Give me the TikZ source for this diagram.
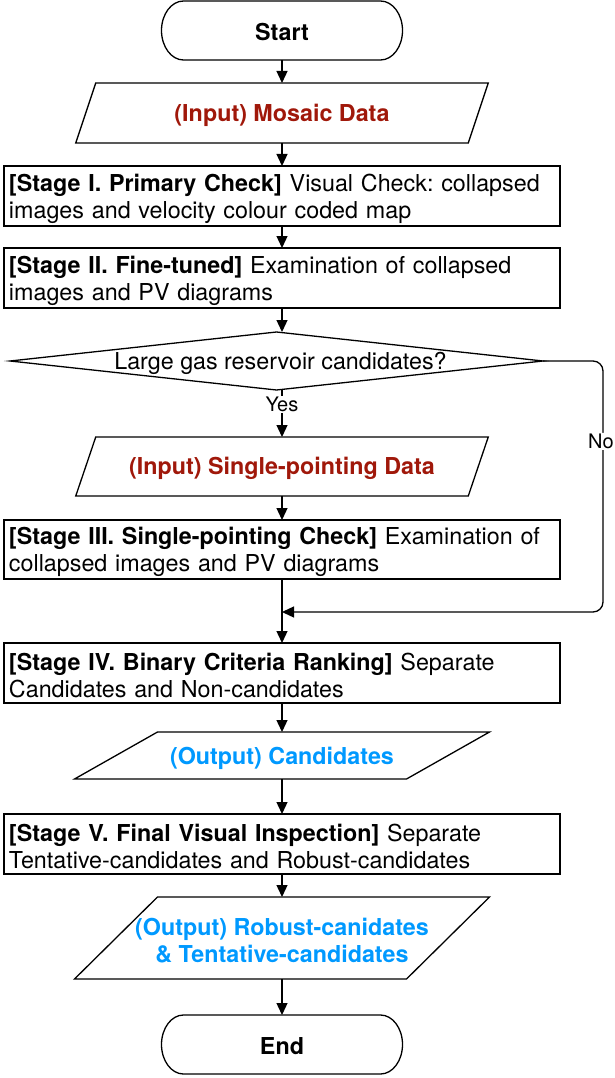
\documentclass[tikz,border=0pt]{standalone}
\usepackage{fontspec}
\setmainfont{TeX Gyre Heros}
\usetikzlibrary{arrows.meta}
\frenchspacing
\definecolor{inred}{RGB}{160,24,10}
\definecolor{outblue}{RGB}{0,153,255}
\newcommand\termshape[1]{\draw[shapeline] ([xshift=22pt]#1.north west) -- ([xshift=-22pt]#1.north east) arc[start angle=90,end angle=-90,x radius=22pt,y radius=29.5pt] -- ([xshift=22pt]#1.south west) arc[start angle=270,end angle=90,x radius=22pt,y radius=29.5pt] -- cycle;}
\newcommand\parashape[2]{\draw[shapeline] ([xshift=#2]#1.north west) -- ([xshift=#2]#1.north east) -- ([xshift=-#2]#1.south east) -- ([xshift=-#2]#1.south west) -- cycle;}
\begin{document}
\begin{tikzpicture}[x=1pt,y=-1pt,
  shapeline/.style={line width=1.3pt, line join=miter},
  frame/.style={inner sep=0, outer sep=0},
  txt/.style={font=\fontsize{23.3}{27}\selectfont, inner sep=0},
  btxt/.style={font=\fontsize{23.3}{27}\selectfont\bfseries, inner sep=0, align=center},
  stagebox/.style={frame, draw, line width=1.3pt, minimum width=556pt, minimum height=60pt},
  stagetext/.style={txt, text width=546pt, align=left},
  arrow/.style={line width=1.3pt, -{Triangle[length=12pt,width=11pt]}},
  lbl/.style={font=\fontsize{20}{24}\selectfont, fill=white, inner sep=1pt}
]
\useasboundingbox (0,0) rectangle (614,1078);

% shapes
\node[frame, minimum width=241pt, minimum height=59pt] (start) at (282,30.5) {};
\termshape{start}
\node[btxt] (startt) at ([yshift=-2pt]start.center) {Start};

\node[frame, minimum width=392.5pt, minimum height=60pt] (mosaic) at (282,113) {};
\parashape{mosaic}{10pt}
\node[btxt, text=inred] (mosaict) at ([yshift=-2pt]mosaic.center) {(Input) Mosaic Data};

\node[stagebox] (s1) at (282,196) {};
\node[stagetext] (s1t) at ([yshift=-2.5pt]s1.center) {\textbf{[Stage I. Primary Check]} Visual Check: collapsed\\images and velocity colour coded map};

\node[stagebox] (s2) at (282,278) {};
\node[stagetext] (s2t) at ([yshift=-2.5pt]s2.center) {\textbf{[Stage II. Fine-tuned]} Examination of collapsed\\images and PV diagrams};

\node[frame, minimum width=533pt, minimum height=58pt] (d) at (276.5,361) {};
\draw[shapeline] (d.west) -- (d.north) -- (d.east) -- (d.south) -- cycle;
\node[txt] (dt) at ([xshift=4pt,yshift=-2pt]d.center) {Large gas reservoir candidates?};

\node[frame, minimum width=392.5pt, minimum height=59pt] (single) at (282,466.5) {};
\parashape{single}{10pt}
\node[btxt, text=inred] (singlet) at ([yshift=-2pt]single.center) {(Input) Single-pointing Data};

\node[stagebox, minimum height=59pt] (s3) at (282,549.5) {};
\node[stagetext] (s3t) at ([yshift=-2.5pt]s3.center) {\textbf{[Stage III. Single-pointing Check]} Examination of\\collapsed images and PV diagrams};

\node[stagebox] (s4) at (282,673) {};
\node[stagetext] (s4t) at ([yshift=-2.5pt]s4.center) {\textbf{[Stage IV. Binary Criteria Ranking]} Separate\\Candidates and Non-candidates};

\node[frame, minimum width=332pt, minimum height=47pt] (cand) at (282,755.5) {};
\parashape{cand}{41.5pt}
\node[btxt, text=outblue] (candt) at ([yshift=-2.5pt]cand.center) {(Output) Candidates};

\node[stagebox] (s5) at (282,844) {};
\node[stagetext] (s5t) at ([yshift=-2.5pt]s5.center) {\textbf{[Stage V. Final Visual Inspection]} Separate\\Tentative-candidates and Robust-candidates};

\node[frame, minimum width=332pt, minimum height=82pt] (robust) at (282,938) {};
\parashape{robust}{41.5pt}
\node[btxt, text=outblue] (robustt) at ([yshift=-2.5pt]robust.center) {(Output) Robust-canidates\\\& Tentative-candidates};

\node[frame, minimum width=241pt, minimum height=59pt] (end) at (282,1044.5) {};
\termshape{end}
\node[btxt] (endt) at ([yshift=-2pt]end.center) {End};

% connectors
\coordinate (nocorner) at (603,361);
\coordinate (m) at (282,612);
\draw[arrow] (start) -- (mosaic);
\draw[arrow] (mosaic) -- (s1);
\draw[arrow] (s1) -- (s2);
\draw[arrow] (s2.south) -- (s2.south |- d.north);
\draw[arrow] (single |- d.south) -- node[lbl, pos=0.3] {Yes} (single.north);
\draw[arrow] (single) -- (s3);
\draw[arrow] (s3) -- (s4);
\draw[arrow, rounded corners=10pt] (d.east) -- (nocorner) -- node[lbl, pos=0.32, xshift=-2pt] {No} (nocorner |- m) -- (m);
\draw[arrow] (s4) -- (cand);
\draw[arrow] (cand) -- (s5);
\draw[arrow] (s5) -- (robust);
\draw[arrow] (robust) -- (end);
\end{tikzpicture}
\end{document}
